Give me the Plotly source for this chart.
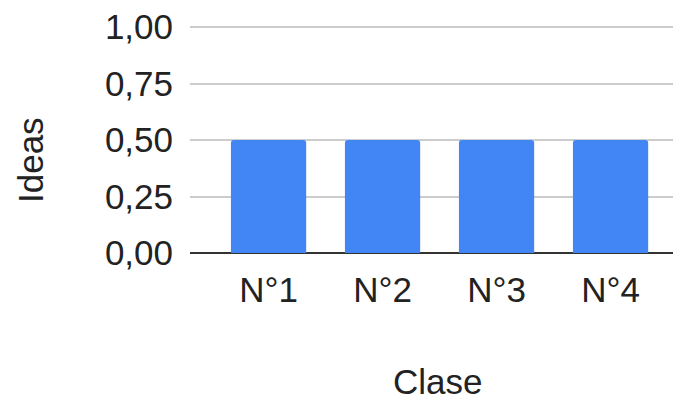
import plotly.graph_objects as go

categories = ["N°1", "N°2", "N°3", "N°4"]
ideas = [0.5, 0.5, 0.5, 0.5]
y_ticks = [0, 0.25, 0.5, 0.75, 1.0]
y_tick_labels = ["0,00", "0,25", "0,50", "0,75", "1,00"]

W, H = 673, 403
L, R, T, B = 190, 0, 25, 150
pw = W - L - R
ph = H - T - B
ymax = 1.0 + 2.0 / 226.0

fig = go.Figure()
fig.add_trace(go.Bar(
    x=list(range(len(categories))), y=ideas,
    marker=dict(color="#4285F4", line=dict(width=0)),
    width=0.66,
))

font = dict(family="Liberation Sans, Arial, sans-serif", size=35, color="#222222")

fig.update_layout(
    width=W, height=H,
    margin=dict(l=L, r=R, t=T, b=B, pad=0),
    paper_bgcolor="white", plot_bgcolor="white",
    font=font,
    showlegend=False,
    barcornerradius=3,
    xaxis=dict(
        range=[-0.689, -0.689 + pw / 114.0],
        tickmode="array", tickvals=list(range(len(categories))), ticktext=categories,
        showgrid=False, zeroline=False, showline=False,
        ticks="", ticklabelstandoff=13,
        tickfont=font,
    ),
    yaxis=dict(
        range=[0, ymax], tickmode="array", tickvals=y_ticks, ticktext=y_tick_labels,
        showgrid=True, gridcolor="#cccccc", gridwidth=2,
        zeroline=True, zerolinecolor="#333333", zerolinewidth=2,
        showline=False, ticks="", ticklabelstandoff=16,
        tickfont=font,
    ),
    annotations=[
        dict(text="Ideas", textangle=-90, xref="paper", yref="paper",
             x=(30 - L) / pw, y=(H - B - 160) / ph, showarrow=False,
             xanchor="center", yanchor="middle", font=font),
        dict(text="Clase", xref="paper", yref="paper",
             x=(437 - L) / pw, y=(H - B - 403) / ph, showarrow=False,
             xanchor="center", yanchor="bottom", font=font),
    ],
)

fig.write_html("out.html", config={"displayModeBar": False},
               post_script="document.body.style.margin='0';document.body.style.overflow='hidden';")
